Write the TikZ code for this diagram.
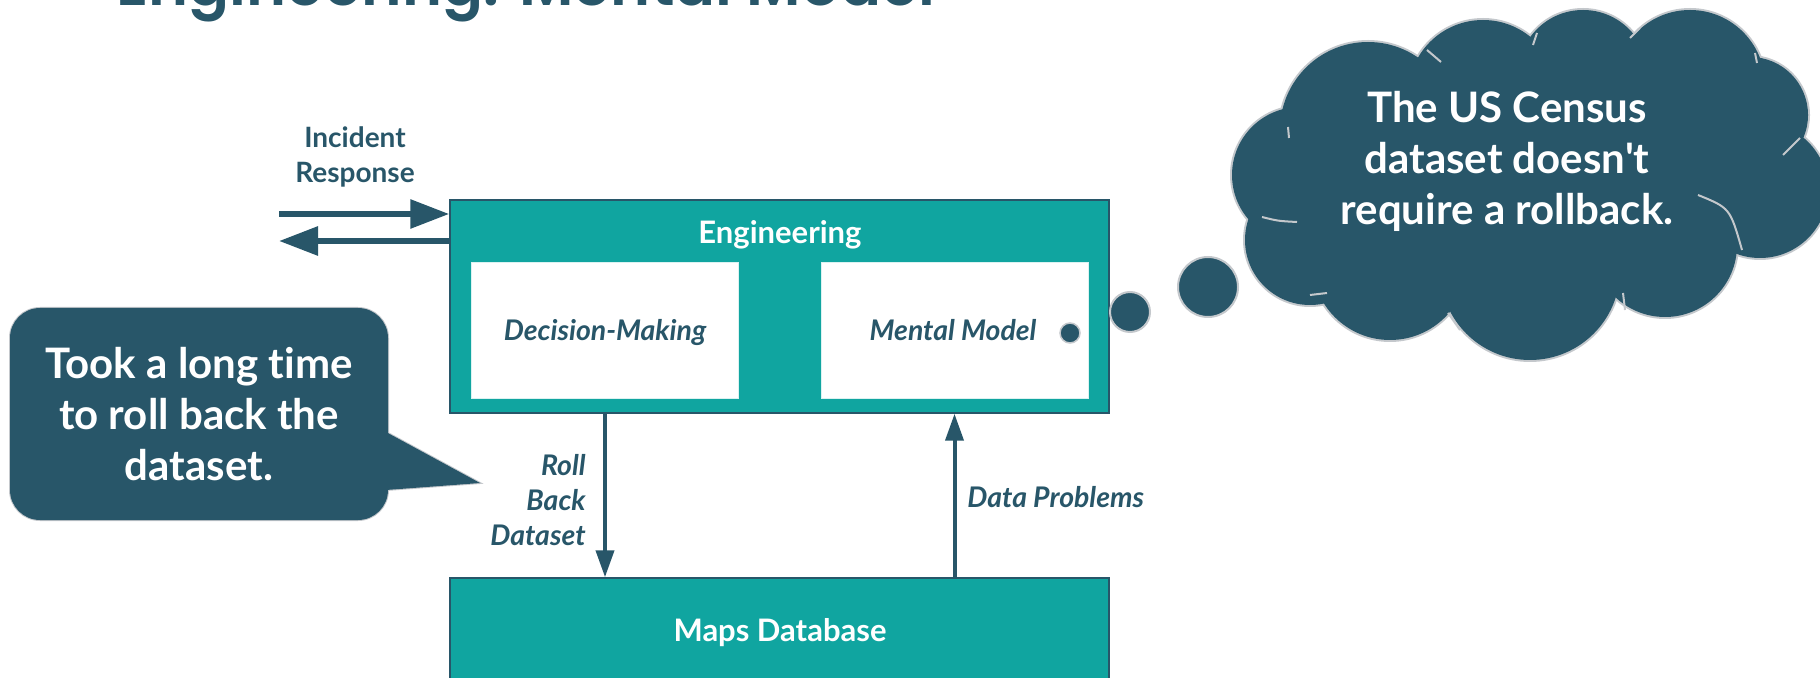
\documentclass[tikz,border=0pt]{standalone}
\usepackage{fontspec}
\setmainfont{Lato}[Ligatures={NoCommon,TeXOff}]
\newfontfamily\titlefont{Poppins SemiBold}
\usetikzlibrary{arrows.meta}
\definecolor{slate}{HTML}{285669}
\definecolor{tealbg}{HTML}{10A5A0}
\definecolor{edgegrey}{HTML}{C4C8CC}
\tikzset{
  lbl/.style={text=slate, font=\fontsize{14pt}{17.5pt}\selectfont\bfseries, inner sep=0pt},
  ilbl/.style={text=slate, font=\fontsize{14.2pt}{17.5pt}\selectfont\bfseries\itshape, inner sep=0pt},
  tealbox/.style={draw=slate, line width=0.75pt, fill=tealbg, inner sep=0pt},
  whitebox/.style={draw=white!85!tealbg, line width=0.5pt, fill=white, inner sep=0pt, minimum width=133.5pt, minimum height=68pt},
  boxtitle/.style={text=white, font=\fontsize{15.5pt}{18pt}\selectfont\bfseries, inner sep=0pt},
  bigtxt/.style={text=white, font=\fontsize{21pt}{25.5pt}\selectfont\bfseries, align=center, inner sep=0pt},
  thickarrow/.style={draw=slate, line width=3pt, -{Triangle[length=19.5pt,width=14pt]}},
  thinarrow/.style={draw=slate, line width=2pt, -{Triangle[length=13.5pt,width=9pt]}},
  bubble/.style={fill=slate, draw=edgegrey, line width=1pt},
  frag/.style={draw=edgegrey, line width=1pt}
}
\begin{document}
\begin{tikzpicture}[x=0.5pt,y=-0.5pt]
\useasboundingbox (0,0) rectangle (1820,678);
\clip (0,0) rectangle (1820,678);

% title (cut off at top)
\node[anchor=base west, inner sep=0pt, text=slate, font=\fontsize{30.3pt}{36pt}\selectfont\titlefont] (title) at (116,6) {Engineering: Mental Model};

% Engineering box
\node[tealbox, minimum width=329.5pt, minimum height=106.5pt] (eng) at (779.5,306.5) {};
\node[boxtitle, anchor=base] (engt) at (780,244) {Engineering};
\node[whitebox] (dec) at (605,331) {};
\node[ilbl, anchor=base] (dect) at (605,341) {Decision-Making};
\node[whitebox] (men) at (954.5,331) {};
\node[ilbl, anchor=base] (ment) at (953,341) {Mental Model};
\node[circle, fill=slate, draw=edgegrey, line width=0.75pt, minimum size=10pt, inner sep=0pt] (dot) at (1070,333) {};

% Maps database box
\node[tealbox, minimum width=329.5pt, minimum height=52pt] (maps) at (779.5,630) {};
\node[boxtitle, anchor=base] (mapst) at (780,641) {Maps Database};

% Incident response arrows
\node[lbl, align=center] (inc) at (355,157) {Incident\\Response};
\coordinate (inA) at (279,214);
\coordinate (outA) at (279,241);
\draw[thickarrow] (inA) -- (inA -| eng.west);
\draw[thickarrow] (outA -| eng.west) -- (outA);

% vertical arrows
\draw[thinarrow] (dec.south |- eng.south) -- (dec.south |- maps.north);
\draw[thinarrow] (men.south |- maps.north) -- (men.south |- eng.south);
\node[ilbl, align=right, anchor=east] (rb) at (586,500) {Roll\\Back\\Dataset};
\node[ilbl, anchor=base west] (dp) at (967,507) {Data Problems};

% callout
\draw[draw=edgegrey, line width=1pt] (10,308) [rounded corners=15pt] rectangle (388,520);
\draw[draw=edgegrey, line width=1pt] (386,432) -- (480,483) -- (386,490) -- cycle;
\fill[slate, rounded corners=15pt] (10,308) rectangle (388,520);
\fill[slate] (386,432) -- (480,483) -- (386,490) -- cycle;
\node[bigtxt] (callt) at (199,414) {Took a long time\\to roll back the\\dataset.};

% thought bubbles
\node[bubble, circle, minimum size=20pt, inner sep=0pt] (b1) at (1130,312) {};
\node[bubble, circle, minimum size=30pt, inner sep=0pt] (b2) at (1208,287) {};

% cloud: outline then fill
\foreach \cx/\cy/\r in {1368/130/88, 1483/95/75, 1583/75/65, 1690/85/75, 1750/115/58, 1760/190/68, 1665/245/72, 1530/270/90, 1390/262/78, 1310/240/65, 1300/175/68}{
  \draw[edgegrey, line width=2pt] (\cx,\cy) circle[radius=\r];
}
\foreach \cx/\cy/\r in {1368/130/88, 1483/95/75, 1583/75/65, 1690/85/75, 1750/115/58, 1760/190/68, 1665/245/72, 1530/270/90, 1390/262/78, 1310/240/65, 1300/175/68, 1520/180/130, 1645/165/60}{
  \fill[slate] (\cx,\cy) circle[radius=\r];
}
% inner fragments
\draw[frag] (1288,127) -- (1289,138);
\draw[frag] (1427,50) -- (1441,62);
\draw[frag] (1533,45) -- (1537,33);
\draw[frag] (1630,38) -- (1640,28);
\draw[frag] (1755,53) -- (1757,63);
\draw[frag] (1783,155) -- (1800,138);
\draw[frag] (1698,195) .. controls (1730,208) .. (1742,250);
\draw[frag] (1623,293) -- (1625,310);
\draw[frag] (1448,313) -- (1460,330);
\draw[frag] (1310,295) -- (1327,293);
\draw[frag] (1262,217) .. controls (1278,221) .. (1297,222);
\node[bigtxt] (cloudt) at (1507,161) {The US Census\\dataset doesn't\\require a rollback.};
\end{tikzpicture}
\end{document}
